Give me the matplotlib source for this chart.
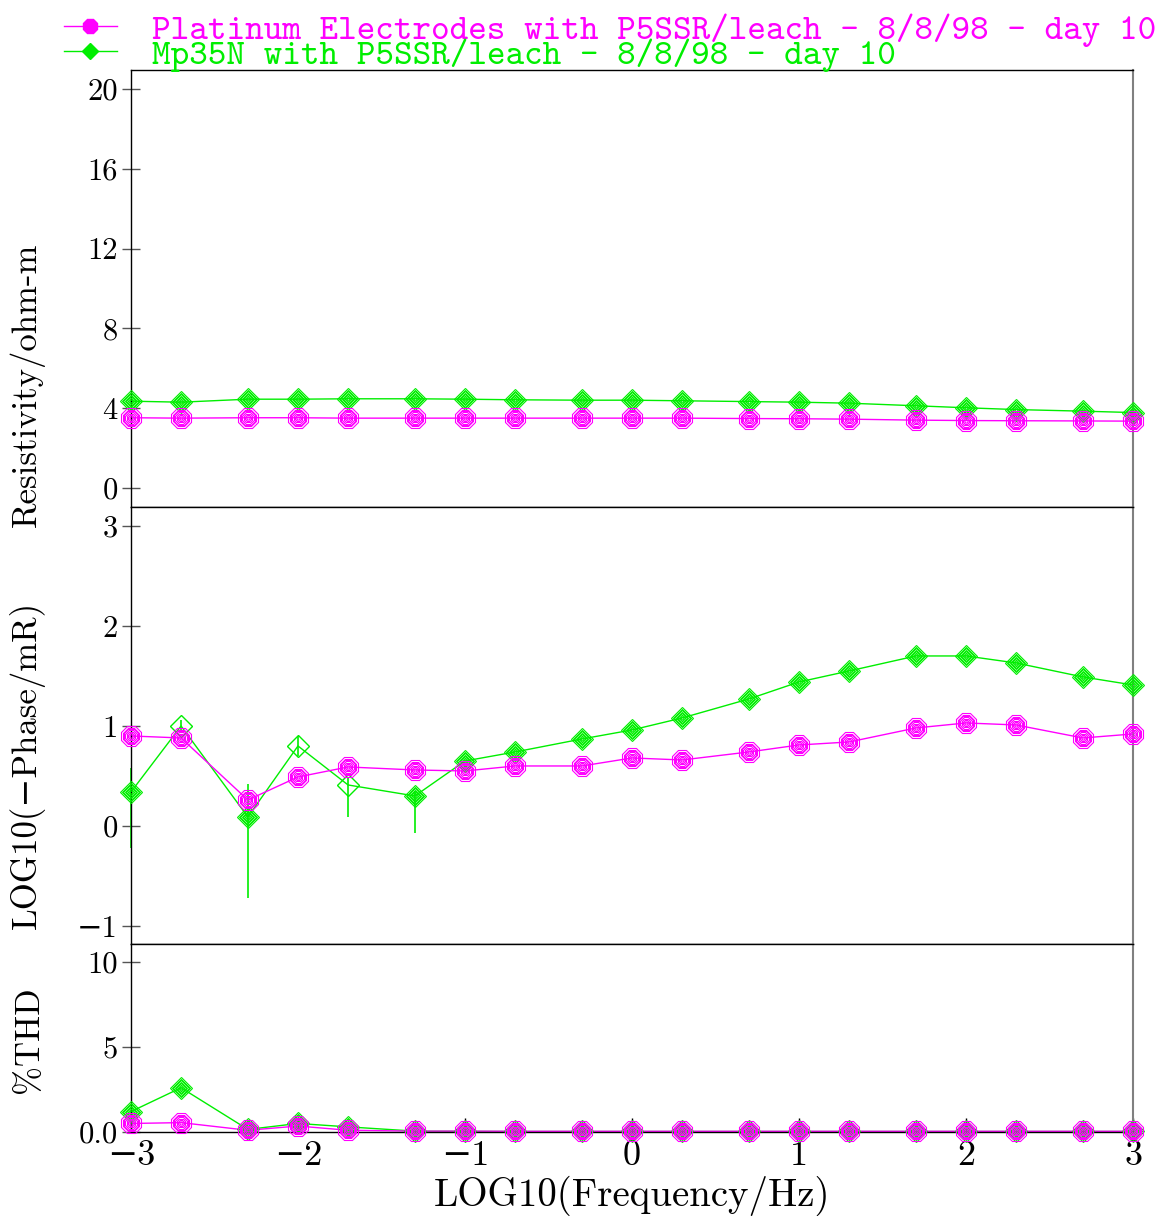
import numpy as np
import matplotlib
matplotlib.use("Agg")
import matplotlib.pyplot as plt
from matplotlib.lines import Line2D

# frequencies (log10 Hz)
logf = [-3, -2.7, -2.3, -2, -1.7, -1.3, -1, -0.7, -0.3, 0, 0.3, 0.7, 1, 1.3, 1.7, 2, 2.3, 2.7, 3]

# resistivity / ohm-m
res_pt = [3.52, 3.5, 3.52, 3.52, 3.5, 3.5, 3.5, 3.5, 3.5, 3.5, 3.5, 3.48, 3.47, 3.45, 3.4, 3.38, 3.37, 3.36, 3.35]
res_mp = [4.35, 4.3, 4.45, 4.45, 4.47, 4.47, 4.45, 4.42, 4.4, 4.4, 4.37, 4.33, 4.3, 4.25, 4.12, 4.02, 3.93, 3.85, 3.78]

# log10(-phase / mrad)
ph_pt = [0.90, 0.88, 0.26, 0.49, 0.59, 0.56, 0.55, 0.60, 0.60, 0.68, 0.66, 0.74, 0.81, 0.84, 0.98, 1.03, 1.01, 0.88, 0.92]
ph_mp = [0.34, 1.00, 0.09, 0.80, 0.41, 0.30, 0.65, 0.74, 0.87, 0.96, 1.08, 1.27, 1.44, 1.55, 1.70, 1.70, 1.63, 1.49, 1.41]
ph_mp_lo = [0.56, 0.06, 0.81, 0.10, 0.32, 0.37, 0, 0, 0, 0, 0, 0, 0, 0, 0, 0, 0, 0, 0]
ph_mp_hi = [0.24, 0.06, 0.33, 0.10, 0.08, 0.05, 0, 0, 0, 0, 0, 0, 0, 0, 0, 0, 0, 0, 0]
ph_mp_open = [1, 3, 4]   # poorer quality points drawn hollow

# %THD
thd_pt = [0.5, 0.55, 0.1, 0.35, 0.1, 0.05, 0.05, 0.04, 0.04, 0.04, 0.04, 0.04, 0.04, 0.04, 0.04, 0.04, 0.04, 0.04, 0.04]
thd_mp = [1.2, 2.6, 0.15, 0.5, 0.3, 0.05, 0.04, 0.03, 0.03, 0.03, 0.03, 0.03, 0.03, 0.03, 0.03, 0.03, 0.03, 0.03, 0.03]

label_pt = "Platinum Electrodes with P5SSR/leach - 8/8/98 - day 10"
label_mp = "Mp35N with P5SSR/leach - 8/8/98 - day 10"
MAG = "#ff00ff"
GRN = "#00ee00"

SERIF = ["cmr10", "DejaVu Serif"]
MONO = ["cmtt10", "DejaVu Sans Mono"]


def series(ax, x, y, color, marker, size, hollow=()):
    x = np.asarray(x)
    y = np.asarray(y)
    ax.plot(x, y, color=color, lw=1.0, zorder=2, clip_on=False)
    full = np.array([i for i in range(len(x)) if i not in hollow])
    for f in [1.0, 0.86, 0.72, 0.58, 0.44, 0.30, 0.16]:
        ax.plot(x[full], y[full], ls="none", marker=marker, ms=size * f, mfc="none",
                mec=color, mew=0.8, zorder=3, clip_on=False)
    if len(hollow):
        h = np.array(hollow)
        ax.plot(x[h], y[h], ls="none", marker=marker, ms=size, mfc="none",
                mec=color, mew=1.0, zorder=3, clip_on=False)


fig = plt.figure(figsize=(11.59, 12.16), dpi=100)
L, W = 0.1130, 0.8646
ax1 = fig.add_axes([L, 0.5831, W, 0.3594])
ax2 = fig.add_axes([L, 0.2237, W, 0.3594], sharex=ax1)
ax3 = fig.add_axes([L, 0.0691, W, 0.1546], sharex=ax1)

series(ax1, logf, res_mp, GRN, "D", 11.0)
series(ax1, logf, res_pt, MAG, "8", 15.0)

ax2.errorbar(logf, ph_mp, yerr=[ph_mp_lo, ph_mp_hi], fmt="none", ecolor=GRN, elinewidth=1.2,
             capsize=0, zorder=2, clip_on=False)
series(ax2, logf, ph_mp, GRN, "D", 11.0, hollow=ph_mp_open)
series(ax2, logf, ph_pt, MAG, "8", 15.0)

series(ax3, logf, thd_mp, GRN, "D", 11.0)
series(ax3, logf, thd_pt, MAG, "8", 15.0)

ax1.set_ylim(-0.95, 20.95)
ax1.set_yticks([0, 4, 8, 12, 16, 20])
ax2.set_ylim(-1.18, 3.19)
ax2.set_yticks([-1, 0, 1, 2, 3])
ax2.set_yticklabels(["\u22121", "0", "1", "2", "3"])
ax3.set_ylim(0, 11.06)
ax3.set_yticks([0, 5, 10])
ax3.set_yticklabels(["0.0", "5", "10"])
ax3.set_xlim(-3, 3)
ax3.set_xticks([-3, -2, -1, 0, 1, 2, 3])
ax3.set_xticklabels(["\u22123", "\u22122", "\u22121", "0", "1", "2", "3"])

for ax in (ax1, ax2, ax3):
    ax.tick_params(axis="y", direction="inout", length=13, width=1, color="#555555",
                   labelsize=22, pad=3)
    for lab in ax.get_yticklabels():
        lab.set_family(SERIF)
    ax.spines["right"].set_color("#808080")
    ax.spines["right"].set_linewidth(1.5)
    for s in ("left", "top", "bottom"):
        ax.spines[s].set_linewidth(1.0)
for ax in (ax1, ax2):
    ax.tick_params(axis="x", bottom=False, labelbottom=False)
ax3.tick_params(axis="x", direction="in", length=10, width=1, labelsize=26, pad=6)
for lab in ax3.get_xticklabels():
    lab.set_family(SERIF)

ax1.set_ylabel("Resistivity/ohm-m", family=SERIF, fontsize=25)
ax2.set_ylabel("LOG10(\u2212Phase/mR)", family=SERIF, fontsize=25)
ax3.set_ylabel("%THD", family=SERIF, fontsize=25)
ax3.set_xlabel("LOG10(Frequency/Hz)", family=SERIF, fontsize=28)
ax1.yaxis.set_label_coords(-0.086, 0.279)
ax2.yaxis.set_label_coords(-0.086, 0.41)
ax3.yaxis.set_label_coords(-0.086, 0.49)
ax3.xaxis.set_label_coords(0.5, -0.232)

handles = [
    Line2D([], [], color=MAG, marker="8", ms=11, mfc=MAG, mec=MAG, lw=1),
    Line2D([], [], color=GRN, marker="D", ms=8, mfc=GRN, mec=GRN, lw=1),
]
fig.legend(handles, [label_pt, label_mp], loc="upper left", bbox_to_anchor=(0.055, 0.989),
           frameon=False, prop={"family": MONO, "size": 25.5},
           labelcolor=[MAG, GRN], handlelength=1.5, handletextpad=1.0, labelspacing=-0.25,
           borderpad=0.0, borderaxespad=0.0)

fig.savefig("out.png", dpi=100)
